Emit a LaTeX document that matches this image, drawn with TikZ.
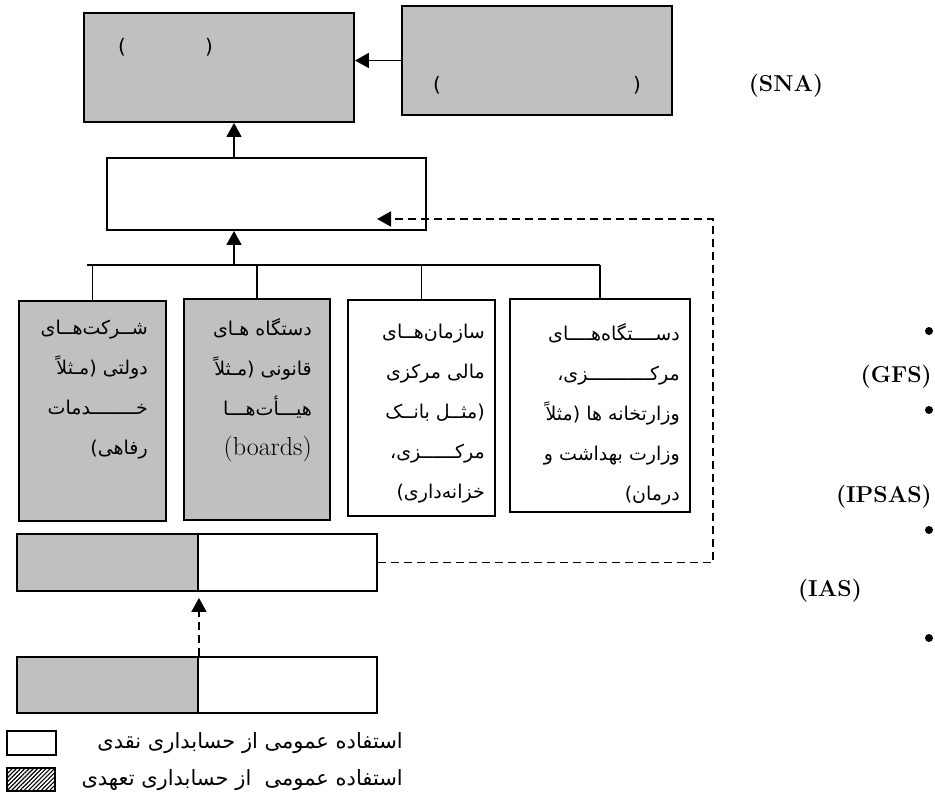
\documentclass[tikz,border=0pt]{standalone}
\usepackage{fontspec}
\usetikzlibrary{arrows.meta,patterns.meta,calc}
\newfontfamily\arabicfont[Script=Arabic]{DejaVu Sans}
\newfontfamily\parenfont{DejaVu Sans}
\TeXXeTstate=1
\definecolor{boxgray}{HTML}{C0C0C0}
\tikzset{
  graybox/.style={draw, fill=boxgray, line width=1.9pt, inner sep=0pt},
  whitebox/.style={draw, fill=white, line width=1.9pt, inner sep=0pt},
  boxtext/.style={anchor=north east, inner sep=0pt, align=right, font={\arabicfont\fontsize{19}{40}\selectfont}},
  keytext/.style={anchor=east, inner sep=0pt, font={\arabicfont\fontsize{21}{26}\selectfont}},
  paren/.style={inner sep=0pt, font={\parenfont\fontsize{20}{24}\selectfont}},
  acro/.style={inner sep=0pt, font={\bfseries\fontsize{23}{27}\selectfont}},
  bulletdot/.style={circle, fill, inner sep=0pt, minimum size=8pt},
  treeline/.style={line width=1.7pt},
  uparrow/.style={line width=1.7pt, -{Triangle[length=14pt,width=15pt]}},
  dasharrow/.style={line width=1.7pt, dash pattern=on 8pt off 5pt, -{Triangle[length=14pt,width=15pt]}}
}

\begin{document}
\begin{tikzpicture}[x=1pt, y=-1pt]
\useasboundingbox (0,0) rectangle (935,802);

\node[graybox, minimum width=270pt, minimum height=109pt] (acct) at (219,67.5) {};
\node[paren] (acctl) at (122,47) {(};
\node[paren] (acctr) at (209,47) {)};
\node[graybox, minimum width=270pt, minimum height=109pt] (nat) at (537,60.5) {};
\node[paren] (natl) at (437,85) {(};
\node[paren] (natr) at (637,85) {)};
\node[acro] (sna) at (786,86) {(SNA)};

\node[whitebox, minimum width=319pt, minimum height=72pt] (midbox) at (266.5,194) {};
\coordinate (bus) at (234,265);
\coordinate (midtip) at (377,219);

\node[graybox, minimum width=147pt, minimum height=220pt] (govco) at (92.5,411) {};
\node[graybox, minimum width=146pt, minimum height=221pt] (statut) at (257,409.5) {};
\node[whitebox, minimum width=147pt, minimum height=216pt] (finorg) at (421.5,408) {};
\node[whitebox, minimum width=180pt, minimum height=213pt] (centre) at (600,405.5) {};

\node[boxtext] (govcotext) at ([xshift=-19pt,yshift=-20pt]govco.north east)
  {\beginR شــرکت‌هــای\endR\\ \beginR دولتی (مـثلاً\endR\\ \beginR خــــــــدمات\endR\\ \beginR رفاهی)\endR};
\node[boxtext] (statuttext) at ([xshift=-19pt,yshift=-20pt]statut.north east)
  {\beginR دستگاه هـای\endR\\ \beginR قانونی (مـثلاً\endR\\ \beginR هیـــأت‌هـــا\endR\\ {\rmfamily\fontsize{26}{40}\selectfont (boards)}};
\node[boxtext] (finorgtext) at ([xshift=-11pt,yshift=-25pt]finorg.north east)
  {\beginR سازمان‌هــای\endR\\ \beginR مالی مرکزی\endR\\ \beginR (مثــل بانــک\endR\\ \beginR مرکــــــزی،\endR\\ \beginR خزانه‌داری)\endR};
\node[boxtext] (centretext) at ([xshift=-11pt,yshift=-25pt]centre.north east)
  {\beginR دســــتگاه‌هــــای\endR\\ \beginR مرکـــــــــــزی،\endR\\ \beginR وزارتخانه ها (مثلاً\endR\\ \beginR وزارت بهداشت و\endR\\ \beginR درمان)\endR};

\node[graybox, minimum width=181pt, minimum height=57pt] (bar1acc) at (107.5,562.5) {};
\node[whitebox, minimum width=179pt, minimum height=57pt] (bar1cash) at (287.5,562.5) {};
\node[graybox, minimum width=181pt, minimum height=56pt] (bar2acc) at (107.5,685) {};
\node[whitebox, minimum width=179pt, minimum height=56pt] (bar2cash) at (287.5,685) {};

\node[whitebox, minimum width=49pt, minimum height=24pt] (cashkey) at (31.5,743) {};
\node[keytext] (cashtext) at (403,743) {\beginR استفاده عمومی از حسابداری نقدی\endR};
\node[draw, line width=1.5pt, pattern={Lines[angle=45,distance=3pt,line width=1.1pt]}, minimum width=48pt, minimum height=23pt] (accrkey) at (31,779.5) {};
\node[keytext] (accrtext) at (403,780) {\beginR استفاده عمومی\ \ از حسابداری تعهدی\endR};

\node[bulletdot] (dota) at (929,331) {};
\node[acro, anchor=east] (gfs) at (932,377) {(GFS)};
\node[bulletdot] (dotb) at (929,410) {};
\node[acro, anchor=east] (ipsas) at (932,497) {(IPSAS)};
\node[bulletdot] (dotc) at (929,530) {};
\node[acro] (ias) at (830,591) {(IAS)};
\node[bulletdot] (dotd) at (929,638) {};

\draw[uparrow] (nat.west) -- (nat.west -| acct.east);
\draw[uparrow] (bus |- midbox.north) -- (bus |- acct.south);
\draw[uparrow] (bus) -- (bus |- midbox.south);
\draw[treeline] ([xshift=-6pt]govco.north |- bus) -- (centre.north |- bus);
\foreach \b in {govco,statut,finorg,centre}
  \draw[treeline] (\b.north) -- (\b.north |- bus);
\draw[dasharrow] (bar1cash.east) -- ++(335,0) |- (midtip);
\draw[dasharrow] (bar2acc.north east) -- ([yshift=-6pt]bar1acc.south east);
\end{tikzpicture}
\end{document}
